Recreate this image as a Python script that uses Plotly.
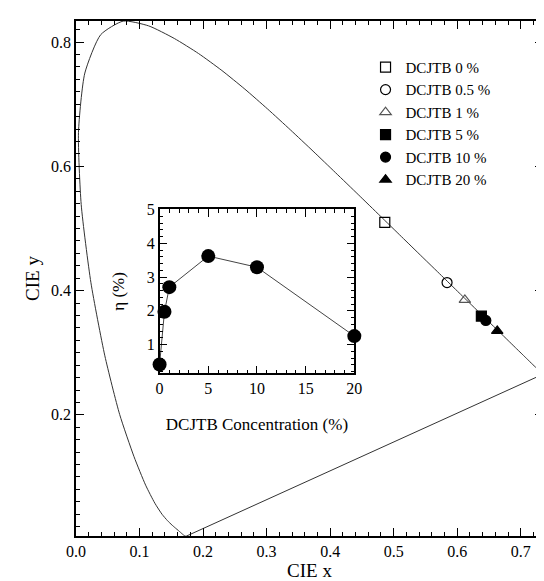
import plotly.graph_objects as go

# CIE 1931 spectral locus (380-700 nm, 5 nm steps)
locus_x = [0.1741, 0.1740, 0.1738, 0.1736, 0.1733, 0.1730, 0.1726, 0.1721, 0.1714, 0.1703,
           0.1689, 0.1669, 0.1644, 0.1611, 0.1566, 0.1510, 0.1440, 0.1355, 0.1241, 0.1096,
           0.0913, 0.0687, 0.0454, 0.0235, 0.0082, 0.0039, 0.0139, 0.0389, 0.0743, 0.1142,
           0.1547, 0.1929, 0.2296, 0.2658, 0.3016, 0.3373, 0.3731, 0.4087, 0.4441, 0.4788,
           0.5125, 0.5448, 0.5752, 0.6029, 0.6270, 0.6482, 0.6658, 0.6801, 0.6915, 0.7006,
           0.7079, 0.7140, 0.7190, 0.7230, 0.7260, 0.7283, 0.7300, 0.7311, 0.7320, 0.7327,
           0.7334, 0.7340, 0.7344, 0.7346, 0.7347]
locus_y = [0.0050, 0.0050, 0.0049, 0.0049, 0.0048, 0.0048, 0.0048, 0.0048, 0.0051, 0.0058,
           0.0069, 0.0086, 0.0109, 0.0138, 0.0177, 0.0227, 0.0297, 0.0399, 0.0578, 0.0868,
           0.1327, 0.2007, 0.2950, 0.4127, 0.5384, 0.6548, 0.7502, 0.8120, 0.8338, 0.8262,
           0.8059, 0.7816, 0.7543, 0.7243, 0.6923, 0.6589, 0.6245, 0.5896, 0.5547, 0.5202,
           0.4866, 0.4544, 0.4242, 0.3965, 0.3725, 0.3514, 0.3340, 0.3197, 0.3083, 0.2993,
           0.2920, 0.2859, 0.2809, 0.2770, 0.2740, 0.2717, 0.2700, 0.2689, 0.2680, 0.2673,
           0.2666, 0.2660, 0.2656, 0.2654, 0.2653]

labels = ["DCJTB 0 %", "DCJTB 0.5 %", "DCJTB 1 %", "DCJTB 5 %", "DCJTB 10 %", "DCJTB 20 %"]
cie_x = [0.486, 0.584, 0.612, 0.638, 0.645, 0.663]
cie_y = [0.510, 0.413, 0.385, 0.359, 0.352, 0.335]

conc = [0, 0.5, 1, 5, 10, 20]
eta = [0.41, 1.97, 2.70, 3.62, 3.29, 1.25]

x_ticks = [0.0, 0.1, 0.2, 0.3, 0.4, 0.5, 0.6, 0.7]
y_ticks = [0.2, 0.4, 0.6, 0.8]

FONT = "Liberation Serif"
symbols = ["square-open", "circle-open", "triangle-up-open", "square", "circle", "triangle-up"]
mcolors = ["black", "black", "#555555", "black", "black", "black"]

fig = go.Figure()
# spectral locus (smooth)
fig.add_trace(go.Scatter(x=locus_x, y=locus_y, mode="lines",
                         line=dict(color="#333333", width=1, shape="spline", smoothing=0.6),
                         showlegend=False, hoverinfo="skip"))
# line of purples (closing the horseshoe)
fig.add_trace(go.Scatter(x=[locus_x[-1], locus_x[0]], y=[locus_y[-1], locus_y[0]], mode="lines",
                         line=dict(color="#333333", width=1), showlegend=False,
                         hoverinfo="skip"))
for i in range(len(labels)):
    fig.add_trace(go.Scatter(x=[cie_x[i]], y=[cie_y[i]], mode="markers", name=labels[i],
                             marker=dict(symbol=symbols[i], size=10, color=mcolors[i],
                                         line=dict(color=mcolors[i], width=1.2))))

fig.add_trace(go.Scatter(x=conc, y=eta, mode="lines+markers", xaxis="x2", yaxis="y2",
                         line=dict(color="#444444", width=1),
                         marker=dict(symbol="circle", size=14, color="black"),
                         cliponaxis=False, showlegend=False))

axis_common = dict(showline=True, linecolor="black", linewidth=1.5, mirror="ticks",
                   ticks="inside", ticklen=8, tickwidth=1, tickcolor="black",
                   showgrid=False, zeroline=False,
                   tickfont=dict(family=FONT, size=16, color="black"))

fig.update_layout(
    width=544, height=581,
    margin=dict(l=68, r=1, t=13, b=53),
    paper_bgcolor="white", plot_bgcolor="white",
    font=dict(family=FONT, color="black"),
    xaxis=dict(range=[0, 0.735], tickvals=x_ticks, ticktext=[f"{v:.1f}" for v in x_ticks],
               minor=dict(dtick=0.02, ticklen=4, ticks="inside", tickcolor="black"),
               title=dict(text="CIE x", font=dict(family=FONT, size=19), standoff=0),
               **axis_common),
    yaxis=dict(range=[0.005, 0.834], tickvals=y_ticks, ticktext=[f"{v:.1f}" for v in y_ticks],
               minor=dict(dtick=0.02, ticklen=4, ticks="inside", tickcolor="black"),
               title=dict(text="CIE y", font=dict(family=FONT, size=19), standoff=6),
               **axis_common),
    xaxis2=dict(domain=[0.179, 0.596], anchor="y2", range=[0, 20], dtick=5,
                minor=dict(dtick=1, ticklen=4, ticks="inside", tickcolor="black"),
                title=dict(text="DCJTB Concentration (%)", font=dict(family=FONT, size=17),
                           standoff=22),
                **axis_common),
    yaxis2=dict(domain=[0.316, 0.634], anchor="x2", range=[0.15, 5], dtick=1,
                minor=dict(dtick=0.2, ticklen=4, ticks="inside", tickcolor="black"),
                title=dict(text="η (%)", font=dict(family=FONT, size=17), standoff=18),
                **axis_common),
    legend=dict(x=0.62, y=0.942, xanchor="left", yanchor="top", bgcolor="rgba(0,0,0,0)",
                font=dict(family=FONT, size=15), itemwidth=30, tracegroupgap=0),
)

fig.write_html("out.html")
